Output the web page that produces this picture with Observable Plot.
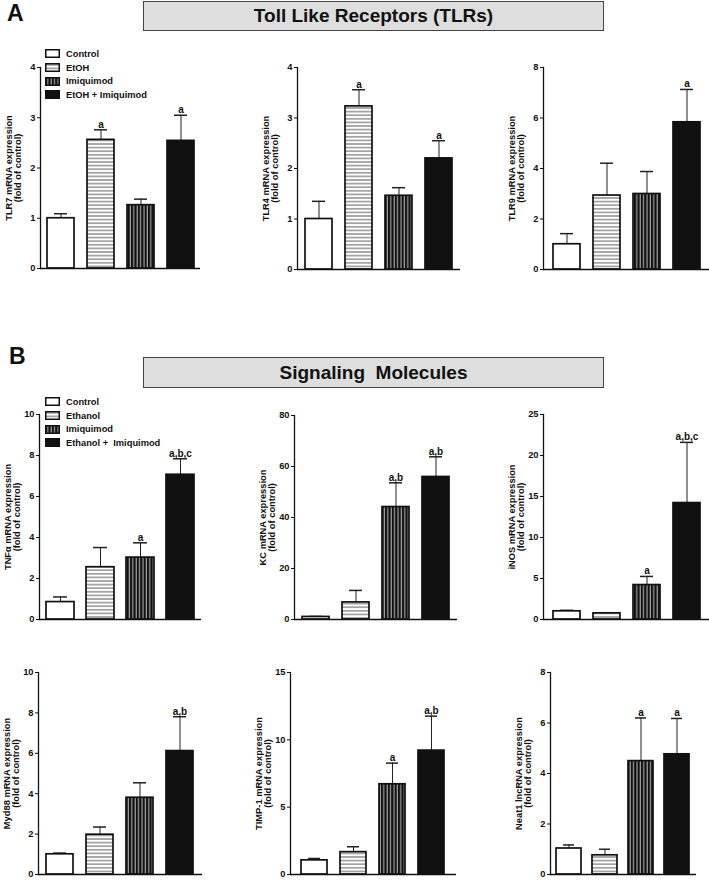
<!DOCTYPE html>
<html><head><meta charset="utf-8">
<script src="https://cdn.jsdelivr.net/npm/d3@7"></script>
<script src="https://cdn.jsdelivr.net/npm/@observablehq/plot@0.6"></script>
<style>
body{margin:0;background:#fff;font-family:"Liberation Sans",Arial,sans-serif;}
#root{position:relative;width:709px;height:880px;overflow:hidden;background:#fff}
.box{position:absolute;background:#dedede;border:1.5px solid #444;box-sizing:border-box;display:flex;align-items:center;justify-content:center;font-weight:bold;font-size:19px;color:#111;white-space:pre}
.tag{position:absolute;font-weight:bold;font-size:23px;color:#111}
.legend{position:absolute;font-weight:bold;font-size:9.3px;color:#111}
.legend div{display:flex;align-items:center;height:13.7px}
.legend svg{margin-right:6px}
</style></head><body>
<svg width="0" height="0" style="position:absolute">
<defs>
<pattern id="hstripe" patternUnits="userSpaceOnUse" width="8" height="3.6">
<rect width="8" height="3.6" fill="#fff"/><line x1="0" x2="8" y1="1.8" y2="1.8" stroke="#5a5a5a" stroke-width="1"/>
</pattern>
<pattern id="vstripe" patternUnits="userSpaceOnUse" width="3.4" height="8">
<rect width="3.4" height="8" fill="#111"/><rect x="2.3" width="0.9" height="8" fill="#d0d0d0"/>
</pattern>
</defs></svg>
<div id="root"></div>
<script>
// ---- categories
const groupsA = ["Control", "EtOH", "Imiquimod", "EtOH + Imiquimod"];
const groupsB = ["Control", "Ethanol", "Imiquimod", "Ethanol +  Imiquimod"];
const fills = ["#fff", "url(#hstripe)", "url(#vstripe)", "#111"];

// ---- series values (mean, SEM, significance letters)
const tlr7Mean = [1.0, 2.56, 1.26, 2.54];
const tlr7Sem = [0.09, 0.2, 0.12, 0.51];
const tlr7Sig = ["", "a", "", "a"];

const tlr4Mean = [1.0, 3.23, 1.46, 2.2];
const tlr4Sem = [0.35, 0.33, 0.16, 0.35];
const tlr4Sig = ["", "a", "", "a"];

const tlr9Mean = [1.0, 2.93, 2.99, 5.83];
const tlr9Sem = [0.42, 1.28, 0.89, 1.3];
const tlr9Sig = ["", "", "", "a"];

const tnfMean = [0.85, 2.55, 3.02, 7.06];
const tnfSem = [0.25, 0.96, 0.72, 0.78];
const tnfSig = ["", "", "a", "a,b,c"];

const kcMean = [1.0, 6.7, 44.1, 55.9];
const kcSem = [0.2, 4.7, 9.5, 7.9];
const kcSig = ["", "", "a,b", "a,b"];

const inosMean = [1.0, 0.75, 4.2, 14.2];
const inosSem = [0.12, 0.08, 1.05, 7.4];
const inosSig = ["", "", "a", "a,b,c"];

const myd88Mean = [1.0, 1.97, 3.8, 6.11];
const myd88Sem = [0.06, 0.38, 0.74, 1.7];
const myd88Sig = ["", "", "", "a,b"];

const timp1Mean = [1.05, 1.66, 6.7, 9.2];
const timp1Sem = [0.14, 0.4, 1.57, 2.56];
const timp1Sig = ["", "", "a", "a,b"];

const neat1Mean = [1.03, 0.76, 4.49, 4.76];
const neat1Sem = [0.14, 0.24, 1.71, 1.42];
const neat1Sig = ["", "", "a", "a"];

// ---- tick labels
const ticks4 = [0, 1, 2, 3, 4];
const ticks8 = [0, 2, 4, 6, 8];
const ticks10 = [0, 2, 4, 6, 8, 10];
const ticks80 = [0, 20, 40, 60, 80];
const ticks25 = [0, 5, 10, 15, 20, 25];
const ticks15 = [0, 5, 10, 15];

const root = document.getElementById("root");
const FONT = '"Liberation Sans", Arial, sans-serif';

function panel(d, lay) {
  const data = d.groups.map((g, i) => ({g, m: d.mean[i], e: d.mean[i] + d.sem[i], s: d.sig[i]}));
  const mL = 45, mR = 3, mT = 22, mB = 5;
  const svg = Plot.plot({
    width: (lay.right - lay.axis) + mL + mR,
    height: (lay.base - lay.top) + mT + mB,
    marginLeft: mL, marginRight: mR, marginTop: mT, marginBottom: mB,
    style: {fontFamily: FONT, fontSize: "9.3px", fontWeight: "bold", color: "#111", background: "transparent", overflow: "visible"},
    x: {domain: d.groups, paddingInner: lay.pi, paddingOuter: lay.po, axis: null},
    y: {domain: [0, d.max]},
    color: {domain: d.groups, range: fills},
    marks: [
      Plot.ruleX(data, {x: "g", y1: "m", y2: "e", stroke: "#222", strokeWidth: 1}),
      Plot.tickY(data, {x: "g", y: "e", stroke: "#222", strokeWidth: 1.5, insetLeft: 7, insetRight: 7}),
      Plot.barY(data, {x: "g", y: "m", fill: "g", stroke: "#111", strokeWidth: 1.7}),
      Plot.text(data, {x: "g", y: "e", text: "s", dy: -2, lineAnchor: "bottom", fontSize: 10, fontWeight: "bold", fill: "#111"}),
      Plot.ruleY([0], {stroke: "#111", strokeWidth: 1.3}),
      Plot.axisY({ticks: d.ticks, tickSize: 3, tickPadding: 2, tickFormat: v => String(v),
        label: d.label, labelAnchor: "center", labelArrow: "none", labelOffset: 35}),
      Plot.frame({anchor: "left", stroke: "#111", strokeWidth: 1.3})
    ]
  });
  svg.style.position = "absolute";
  svg.style.left = (lay.axis - mL) + "px";
  svg.style.top = (lay.top - mT) + "px";
  root.appendChild(svg);
}

function legend(groups, left, top) {
  const div = document.createElement("div");
  div.className = "legend";
  div.style.left = left + "px";
  div.style.top = top + "px";
  groups.forEach((g, i) => {
    const row = document.createElement("div");
    row.innerHTML = `<svg width="15" height="9"><rect x="0.75" y="0.75" width="13.5" height="7.5" fill="${fills[i]}" stroke="#111" stroke-width="1.5"/></svg><span style="white-space:pre">${g}</span>`;
    div.appendChild(row);
  });
  root.appendChild(div);
}

function box(text, left, top, w, h) {
  const b = document.createElement("div");
  b.className = "box";
  Object.assign(b.style, {left: left + "px", top: top + "px", width: w + "px", height: h + "px"});
  b.textContent = text;
  root.appendChild(b);
}
function tag(text, left, top) {
  const t = document.createElement("div");
  t.className = "tag";
  Object.assign(t.style, {left: left + "px", top: top + "px"});
  t.textContent = text;
  root.appendChild(t);
}

// ---- section A
tag("A", 7, 0);
box("Toll Like Receptors (TLRs)", 143, 1, 461, 30);
panel({groups: groupsA, mean: tlr7Mean, sem: tlr7Sem, sig: tlr7Sig, max: 4, ticks: ticks4, label: "TLR7 mRNA expression\n(fold of control)"},
  {axis: 40, right: 200, top: 67, base: 268, pi: 0.33, po: 0.15});
panel({groups: groupsA, mean: tlr4Mean, sem: tlr4Sem, sig: tlr4Sig, max: 4, ticks: ticks4, label: "TLR4 mRNA expression\n(fold of control)"},
  {axis: 297, right: 460, top: 67, base: 269, pi: 0.32, po: 0.15});
panel({groups: groupsA, mean: tlr9Mean, sem: tlr9Sem, sig: tlr9Sig, max: 8, ticks: ticks8, label: "TLR9 mRNA expression\n(fold of control)"},
  {axis: 543, right: 709, top: 67, base: 269, pi: 0.325, po: 0.2});
legend(groupsA, 45, 47);

// ---- section B
tag("B", 9, 343);
box("Signaling  Molecules", 143, 357, 461, 31);
panel({groups: groupsB, mean: tnfMean, sem: tnfSem, sig: tnfSig, max: 10, ticks: ticks10, label: "TNFα mRNA expression\n(fold of control)"},
  {axis: 39, right: 201, top: 414, base: 619, pi: 0.31, po: 0.15});
panel({groups: groupsB, mean: kcMean, sem: kcSem, sig: kcSig, max: 80, ticks: ticks80, label: "KC mRNA expression\n(fold of control)"},
  {axis: 294, right: 457, top: 415, base: 619, pi: 0.325, po: 0.17});
panel({groups: groupsB, mean: inosMean, sem: inosSem, sig: inosSig, max: 25, ticks: ticks25, label: "iNOS mRNA expression\n(fold of control)"},
  {axis: 543, right: 709, top: 414, base: 619, pi: 0.325, po: 0.2});
panel({groups: groupsB, mean: myd88Mean, sem: myd88Sem, sig: myd88Sig, max: 10, ticks: ticks10, label: "Myd88 mRNA expression\n(fold of control)"},
  {axis: 38, right: 202, top: 672, base: 874, pi: 0.32, po: 0.2});
panel({groups: groupsB, mean: timp1Mean, sem: timp1Sem, sig: timp1Sig, max: 15, ticks: ticks15, label: "TIMP-1 mRNA expression\n(fold of control)"},
  {axis: 290, right: 456, top: 672, base: 874, pi: 0.33, po: 0.28});
panel({groups: groupsB, mean: neat1Mean, sem: neat1Sem, sig: neat1Sig, max: 8, ticks: ticks8, label: "Neat1 lncRNA expression\n(fold of control)"},
  {axis: 550, right: 696, top: 672, base: 874, pi: 0.3, po: 0.17});
legend(groupsB, 45, 395);
</script>
</body></html>
